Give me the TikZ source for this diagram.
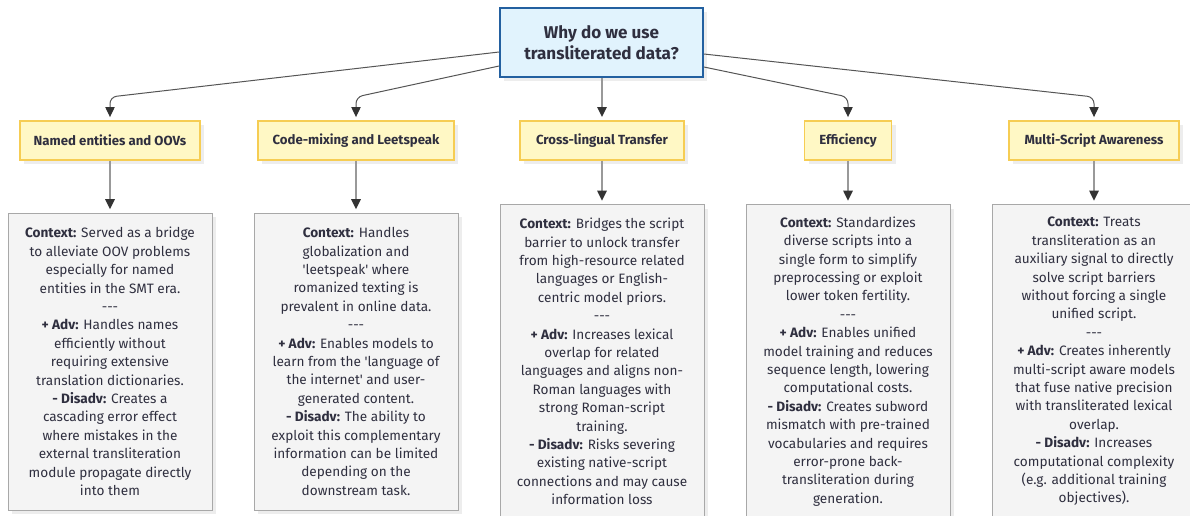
\documentclass[tikz,border=0pt]{standalone}
\usepackage{fontspec}
\setmainfont{Fira Sans}[Ligatures=TeXOff]
\usetikzlibrary{arrows.meta,calc,shadows}
\definecolor{topfill}{HTML}{E1F3FD}
\definecolor{topdraw}{HTML}{2360A0}
\definecolor{yfill}{HTML}{FFF8C5}
\definecolor{ydraw}{HTML}{F6CD53}
\definecolor{gfill}{HTML}{F4F4F4}
\definecolor{gdraw}{HTML}{A8A8A8}
\definecolor{txt}{HTML}{2F2F3F}
\definecolor{lined}{HTML}{555555}
\definecolor{linev}{HTML}{999999}
\definecolor{tipc}{HTML}{333333}
\definecolor{shade}{HTML}{EDEDED}
\begin{document}
\begin{tikzpicture}[x=0.75pt,y=-0.75pt,
  shad/.style={general shadow={fill=shade, shadow xshift=3pt, shadow yshift=-3pt}},
  topbox/.style={draw=topdraw, line width=1.4pt, fill=topfill, shad, text=txt,
    font=\fontsize{12.8pt}{16.2pt}\selectfont\bfseries, align=center,
    minimum width=152.25pt, minimum height=51.75pt, inner sep=0pt},
  ybox/.style={draw=ydraw, line width=0.9pt, fill=yfill, shad, text=txt,
    font=\fontsize{9.9pt}{12pt}\selectfont\bfseries, align=center,
    minimum height=29.25pt, inner sep=0pt},
  gbox/.style={draw=gdraw, line width=0.75pt, fill=gfill, shad, text=txt,
    font=\fontsize{10.2pt}{13.8pt}\selectfont, align=center,
    minimum width=153pt, inner sep=0pt},
  darr/.style={draw=lined, line width=0.75pt, rounded corners=5pt,
    -{Triangle[length=7.5pt,width=7pt,color=tipc]}, shorten >=2.5pt},
  varr/.style={draw=linev, line width=1.3pt,
    -{Triangle[length=7.5pt,width=7pt,color=tipc]}, shorten >=2.5pt}
]
\clip (0,0) rectangle (1190,515);
\fill[white] (0,0) rectangle (1190,515);

\node[topbox] (top) at (601.5,42.5) {Why do we use\\transliterated data?};

\node[ybox, minimum width=135pt] (n1) at (110,140.5) {Named entities and OOVs};
\node[ybox, minimum width=147pt] (n2) at (356,140.5) {Code-mixing and Leetspeak};
\node[ybox, minimum width=123pt] (n3) at (602,140.5) {Cross-lingual Transfer};
\node[ybox, minimum width=65.25pt] (n4) at (848,140.5) {Efficiency};
\node[ybox, minimum width=127.5pt] (n5) at (1094,140.5) {Multi-Script Awareness};

\node[gbox, minimum height=222.75pt] (b1) at (110,361.5) {\textbf{Context:} Served as a bridge\\to alleviate OOV problems\\especially for named\\entities in the SMT era.\\---\\\textbf{+ Adv:} Handles names\\efficiently without\\requiring extensive\\translation dictionaries.\\\textbf{- Disadv:} Creates a\\cascading error effect\\where mistakes in the\\external transliteration\\module propagate directly\\into them};
\node[gbox, minimum height=222.75pt] (b2) at (356,361.5) {\textbf{Context:} Handles\\globalization and\\'leetspeak' where\\romanized texting is\\prevalent in online data.\\---\\\textbf{+ Adv:} Enables models to\\learn from the 'language of\\the internet' and user-\\generated content.\\\textbf{- Disadv:} The ability to\\exploit this complementary\\information can be limited\\depending on the\\downstream task.};
\node[gbox, minimum height=235.5pt] (b3) at (602,361.5) {\textbf{Context:} Bridges the script\\barrier to unlock transfer\\from high-resource related\\languages or English-\\centric model priors.\\---\\\textbf{+ Adv:} Increases lexical\\overlap for related\\languages and aligns non-\\Roman languages with\\strong Roman-script\\training.\\\textbf{- Disadv:} Risks severing\\existing native-script\\connections and may cause\\information loss};
\node[gbox, minimum height=235.5pt] (b4) at (848,361.5) {\textbf{Context:} Standardizes\\diverse scripts into a\\single form to simplify\\preprocessing or exploit\\lower token fertility.\\---\\\textbf{+ Adv:} Enables unified\\model training and reduces\\sequence length, lowering\\computational costs.\\\textbf{- Disadv:} Creates subword\\mismatch with pre-trained\\vocabularies and requires\\error-prone back-\\transliteration during\\generation.};
\node[gbox, minimum height=235.5pt] (b5) at (1094,361.5) {\textbf{Context:} Treats\\transliteration as an\\auxiliary signal to directly\\solve script barriers\\without forcing a single\\unified script.\\---\\\textbf{+ Adv:} Creates inherently\\multi-script aware models\\that fuse native precision\\with transliterated lexical\\overlap.\\\textbf{- Disadv:} Increases\\computational complexity\\(e.g. additional training\\objectives).};

\coordinate (c1) at (110,97);
\coordinate (c2) at (356,97);
\coordinate (c4) at (848,97);
\coordinate (c5) at (1094,97);

\draw[darr] ($(top.west)+(0,9.5)$) -- (c1) -- (n1.north);
\draw[darr] ($(top.west)+(0,23.5)$) -- (c2) -- (n2.north);
\draw[varr] (top.south -| n3.north) -- (n3.north);
\draw[darr] ($(top.east)+(0,24.5)$) -- (c4) -- (n4.north);
\draw[darr] ($(top.east)+(0,11.5)$) -- (c5) -- (n5.north);

\draw[varr] (n1.south) -- (b1.north);
\draw[varr] (n2.south) -- (b2.north);
\draw[varr] (n3.south) -- (b3.north);
\draw[varr] (n4.south) -- (b4.north);
\draw[varr] (n5.south) -- (b5.north);
\end{tikzpicture}
\end{document}
